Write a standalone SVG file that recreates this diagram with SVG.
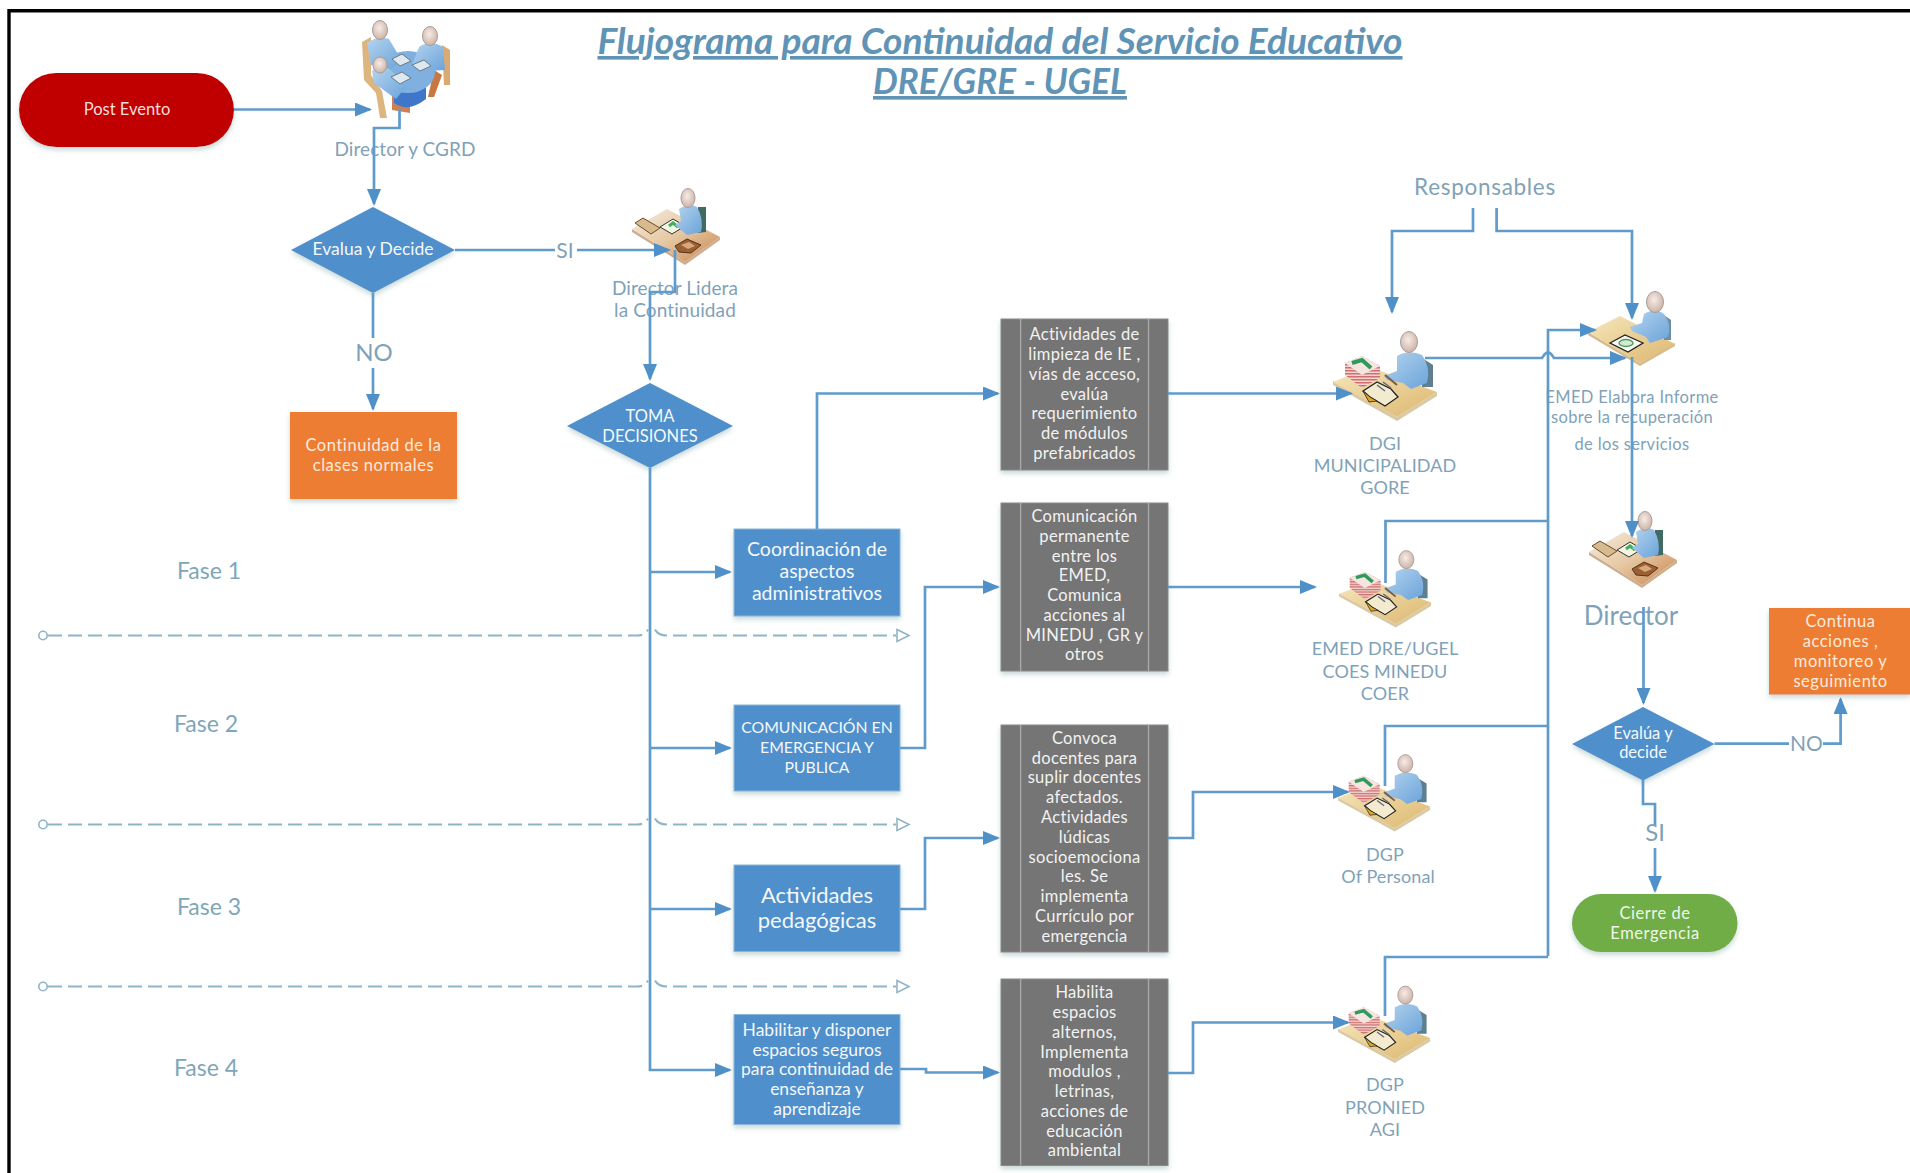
<svg xmlns="http://www.w3.org/2000/svg" width="1910" height="1173" viewBox="0 0 1910 1173">
<style>
text{font-family:Lato,"Liberation Sans",sans-serif;text-anchor:middle}
.w{fill:#f4f8fb;font-size:16.5px}
.o{fill:#fdeadd;font-size:16.5px;letter-spacing:.55px}
.l{fill:#7fa2b8;font-size:18px;letter-spacing:.1px}
.ls{font-size:16.5px;letter-spacing:.35px}
.f{fill:#7ea6b8;font-size:23px}
.big{fill:#7fa2b8;font-size:26px}
.g{fill:#f2f2f2;font-size:16.5px;letter-spacing:.3px}
.t{fill:#5f94b6;font-size:36px;font-weight:700;font-style:italic;text-decoration:underline}
.blue{fill:#4f8fcb;filter:url(#sh)}
.box{stroke:#8db6dc;stroke-width:1}
.gray{fill:#757575;stroke:#8a8a8a;stroke-width:1;filter:url(#sh)}
.in{stroke:#a8a8a8;stroke-width:1.4;fill:none}
.c{fill:none;stroke:#5f9bcb;stroke-width:2.7}
.a{marker-end:url(#arrow)}
.d{fill:none;stroke:#8fb4c6;stroke-width:2;stroke-dasharray:14 6}
.dm{fill:none;stroke:#8fb4c6;stroke-width:1.6}
.ic{filter:url(#soft)}
</style>
<defs>
<marker id="arrow" markerUnits="userSpaceOnUse" viewBox="0 0 17 14" markerWidth="17" markerHeight="14" refX="15" refY="7" orient="auto"><path d="M0 0L17 7L0 14Z" fill="#4f90c8"/></marker>
<filter id="sh" x="-10%" y="-10%" width="120%" height="125%"><feDropShadow dx="0" dy="3" stdDeviation="2.5" flood-color="#8aa" flood-opacity=".45"/></filter>
<filter id="soft" x="-5%" y="-5%" width="110%" height="110%"><feGaussianBlur stdDeviation=".55"/></filter>
<linearGradient id="desk" x1="0" y1="0" x2="1" y2="1"><stop offset="0" stop-color="#f6e6bb"/><stop offset="1" stop-color="#dcb76f"/></linearGradient>
<linearGradient id="desk2" x1="0" y1="0" x2="1" y2="1"><stop offset="0" stop-color="#f4ece2"/><stop offset=".5" stop-color="#e6c8a2"/><stop offset="1" stop-color="#c6834e"/></linearGradient>
<linearGradient id="body" x1="0" y1="0" x2="1" y2="1"><stop offset="0" stop-color="#b5d4ee"/><stop offset="1" stop-color="#6ba3da"/></linearGradient>
<radialGradient id="head" cx=".45" cy=".4" r=".6"><stop offset="0" stop-color="#f7ece6"/><stop offset="1" stop-color="#cdb3a8"/></radialGradient>
<pattern id="stripes" width="4" height="3" patternUnits="userSpaceOnUse"><rect width="4" height="3" fill="#f3d4d0"/><rect width="4" height="1.5" fill="#cf6f6f"/></pattern>
<g id="worker">
<path d="M8 60L72 96L112 71V67L72 92L8 56Z" fill="#c9b27e" opacity=".7"/>
<path d="M8 57L45 42L112 67L72 92Z" fill="url(#desk)"/>
<path d="M20 38L37 31L55 41V53L37 63L20 50Z" fill="url(#stripes)"/>
<path d="M20 38L37 31L55 41L37 50Z" fill="#f6e4e0"/>
<path d="M27 38L37 35L46 43" fill="none" stroke="#2f9a5c" stroke-width="4"/>
<path d="M97 33L108 40V62L97 62Z" fill="#5d7f90"/>
<path d="M72 31Q84 24 97 30Q106 42 102 58L86 64L78 58L62 55L59 51L72 46Z" fill="url(#body)"/>
<ellipse cx="84" cy="17" rx="8.5" ry="10.5" fill="url(#head)" stroke="#a79c98"/>
<path d="M38 66L52 57L66 64L73 72L60 81L45 72Z" fill="#f3ebd0" stroke="#222" stroke-width="1.3"/>
<path d="M38 66L45 72L52 76L44 77Z" fill="#e0a51f" stroke="#222" stroke-width=".8"/>
<path d="M52 60L60 66M58 57L66 63" stroke="#667" stroke-width="1.5"/>
<path d="M60 50L72 60" stroke="#7d5a3c" stroke-width="2"/>
</g>
<g id="boss">
<path d="M7 47L60 80L95 55V52L60 77L7 44Z" fill="#b98a5f" opacity=".7"/>
<path d="M7 44L42 24L95 52L60 77Z" fill="url(#desk2)"/>
<path d="M10 38L18 33L35 43L26 49Z" fill="#d7bb8c" stroke="#6b4b2c"/>
<path d="M35 42L48 34L60 41L47 49Z" fill="#f4f4e4" stroke="#333"/>
<path d="M44 41L48 38L53 42" fill="none" stroke="#3fae5f" stroke-width="3"/>
<path d="M50 61L62 54L76 60L66 68L54 67Z" fill="#9c5f33" stroke="#53341c"/>
<path d="M56 60L64 57L70 61L63 64Z" fill="#d8a77c"/>
<path d="M73 22L81 22V47L73 48Z" fill="#3f6b62"/>
<path d="M54 24Q64 17 72 22Q79 34 76 47L62 50L50 40L56 36Z" fill="url(#body)"/>
<ellipse cx="63" cy="13" rx="7" ry="9.5" fill="url(#head)" stroke="#a79c98"/>
</g>
<g id="writer">
<path d="M8 50L60 81L95 61V58L60 78L8 47Z" fill="#c49d5e" opacity=".7"/>
<path d="M8 47L40 31L95 59L60 78Z" fill="url(#desk)"/>
<path d="M30 58L45 50L63 58L48 67Z" fill="#fafaf0" stroke="#222" stroke-width="1.3"/>
<ellipse cx="46" cy="58" rx="7" ry="3.5" fill="#d6e8d0" stroke="#4b9d66" stroke-width="1.4"/>
<path d="M84 30L91 35V55L84 55Z" fill="#6d8fa3"/>
<path d="M64 29Q75 22 84 29Q92 40 88 52L70 58L66 52L52 46L50 42L62 38Z" fill="url(#body)"/>
<ellipse cx="75" cy="17" rx="8.5" ry="10.5" fill="url(#head)" stroke="#a79c98"/>
</g>
<g id="meeting">
<path d="M12 27L21 22V60L32 76L37 103H30L26 78L14 65Z" fill="#dcb57f"/>
<path d="M92 30L100 35V70H94Z" fill="#d9ab72"/>
<path d="M60 98V73H42V95Z" fill="#c46a36" opacity=".85"/>
<path d="M84 55L78 82H84L92 60Z" fill="#c9763f"/>
<path d="M44 70V88Q58 98 76 84V70Z" fill="#3f76c9"/>
<ellipse cx="58" cy="57" rx="27" ry="21" fill="#7fb0e0"/>
<path d="M17 28Q28 20 39 24L52 46L40 54L21 50Z" fill="url(#body)"/>
<path d="M69 32Q80 24 93 32L95 55L78 56L62 50Z" fill="url(#body)"/>
<path d="M22 56Q32 48 42 56L56 72L46 84L24 68Z" fill="url(#body)"/>
<path d="M42 44L52 39L61 46L50 51ZM62 50L74 45L81 51L70 56ZM41 62L52 57L61 63L50 69Z" fill="#dfe8ee" stroke="#6a7a85"/>
<ellipse cx="30" cy="15" rx="7.5" ry="9.5" fill="url(#head)" stroke="#a79c98"/>
<ellipse cx="80" cy="21" rx="7.5" ry="9.5" fill="url(#head)" stroke="#a79c98"/>
<ellipse cx="30" cy="50" rx="7" ry="8" fill="url(#head)" stroke="#a79c98"/>
</g>
<g id="dash">
<path class="d" d="M48 0H637Q645 0 648 -6M655 -6Q658 0 667 0H896"/>
<circle class="dm" cx="43" cy="0" r="4.2"/>
<path class="dm" d="M897 -6L909 0L897 6Z"/>
</g>
</defs>
<rect width="1910" height="1173" fill="#fff"/>
<path id="frame" d="M1910 10.7H9V1173" fill="none" stroke="#000" stroke-width="3.4"/>
<g id="title">
<text class="t" x="1000" y="54" textLength="805" lengthAdjust="spacingAndGlyphs">Flujograma para Continuidad del Servicio Educativo</text>
<text class="t" x="1000" y="94" textLength="254" lengthAdjust="spacingAndGlyphs">DRE/GRE - UGEL</text>
</g>
<g id="post-evento"><rect x="19" y="73" width="215" height="74" rx="37" fill="#c00000" filter="url(#sh)"/><text x="127" y="115" fill="#f6dede" font-size="16.5">Post Evento</text></g>
<g id="director-cgrd"><use class="ic" href="#meeting" x="350" y="15"/><text class="l" x="405" y="156" style="font-size:19px">Director y CGRD</text></g>
<g id="evalua-decide"><path class="blue" d="M373 207L455 250L373 293L291 250Z"/><text class="w" x="373" y="255" style="font-size:17.5px">Evalua y Decide</text></g>
<g id="continuidad"><rect x="290" y="412" width="167" height="87" fill="#ed7d31" filter="url(#sh)"/><text class="o" x="373.5"><tspan x="373.5" y="451">Continuidad de la</tspan><tspan x="373.5" y="471">clases normales</tspan></text></g>
<g id="director-lidera"><use class="ic" href="#boss" x="625" y="185"/><text class="l" x="675" style="font-size:19px"><tspan x="675" y="295">Director Lidera</tspan><tspan x="675" y="317">la Continuidad</tspan></text></g>
<g id="toma-decisiones"><path class="blue" d="M650 383L733 426L650 468L567 426Z"/><text class="w" x="650"><tspan x="650" y="422">TOMA</tspan><tspan x="650" y="442">DECISIONES</tspan></text></g>
<g id="fases"><text class="f" x="209" y="579">Fase 1</text><text class="f" x="206" y="732">Fase 2</text><text class="f" x="209" y="915">Fase 3</text><text class="f" x="206" y="1076">Fase 4</text></g>
<g id="coordinacion"><rect class="blue box" x="734" y="529" width="166" height="87"/><text class="w" style="font-size:19.5px" x="817"><tspan x="817" y="556">Coordinación de</tspan><tspan x="817" y="578">aspectos</tspan><tspan x="817" y="600">administrativos</tspan></text></g>
<g id="comunicacion"><rect class="blue box" x="734" y="705" width="166" height="86"/><text class="w" style="font-size:15.8px" x="817"><tspan x="817" y="733">COMUNICACIÓN EN</tspan><tspan x="817" y="753">EMERGENCIA Y</tspan><tspan x="817" y="773">PUBLICA</tspan></text></g>
<g id="pedagogicas"><rect class="blue box" x="734" y="865" width="166" height="86.5"/><text class="w" style="font-size:22px" x="817"><tspan x="817" y="902.5">Actividades</tspan><tspan x="817" y="927.5">pedagógicas</tspan></text></g>
<g id="habilitar"><rect class="blue box" x="734" y="1014.5" width="166" height="110"/><text class="w" x="817" style="font-size:17.5px"><tspan x="817" y="1035.5">Habilitar y disponer</tspan><tspan x="817" y="1055.5">espacios seguros</tspan><tspan x="817" y="1075">para continuidad de</tspan><tspan x="817" y="1095">enseñanza y</tspan><tspan x="817" y="1115">aprendizaje</tspan></text></g>
<g id="gris-1"><rect class="gray" x="1001" y="319" width="167" height="151"/><path class="in" d="M1020.6 319V470M1148.5 319V470"/><text class="g" x="1084.5"><tspan x="1084.5" y="340">Actividades de</tspan><tspan x="1084.5" y="360">limpieza de IE ,</tspan><tspan x="1084.5" y="379.5">vías de acceso,</tspan><tspan x="1084.5" y="399.5">evalúa</tspan><tspan x="1084.5" y="419">requerimiento</tspan><tspan x="1084.5" y="439">de módulos</tspan><tspan x="1084.5" y="459">prefabricados</tspan></text></g>
<g id="gris-2"><rect class="gray" x="1001" y="503" width="167" height="168"/><path class="in" d="M1020.6 503V671M1148.5 503V671"/><text class="g" x="1084.5"><tspan x="1084.5" y="522">Comunicación</tspan><tspan x="1084.5" y="542">permanente</tspan><tspan x="1084.5" y="561.5">entre los</tspan><tspan x="1084.5" y="581">EMED,</tspan><tspan x="1084.5" y="601">Comunica</tspan><tspan x="1084.5" y="621">acciones al</tspan><tspan x="1084.5" y="640.5">MINEDU , GR y</tspan><tspan x="1084.5" y="660">otros</tspan></text></g>
<g id="gris-3"><rect class="gray" x="1001" y="725" width="167" height="227"/><path class="in" d="M1020.6 725V952M1148.5 725V952"/><text class="g" x="1084.5"><tspan x="1084.5" y="743.5">Convoca</tspan><tspan x="1084.5" y="763.5">docentes para</tspan><tspan x="1084.5" y="783">suplir docentes</tspan><tspan x="1084.5" y="803">afectados.</tspan><tspan x="1084.5" y="823">Actividades</tspan><tspan x="1084.5" y="843">lúdicas</tspan><tspan x="1084.5" y="862.5">socioemociona</tspan><tspan x="1084.5" y="882">les. Se</tspan><tspan x="1084.5" y="902">implementa</tspan><tspan x="1084.5" y="922">Currículo por</tspan><tspan x="1084.5" y="941.5">emergencia</tspan></text></g>
<g id="gris-4"><rect class="gray" x="1001" y="979" width="167" height="186.5"/><path class="in" d="M1020.6 979V1165.5M1148.5 979V1165.5"/><text class="g" x="1084.5"><tspan x="1084.5" y="998">Habilita</tspan><tspan x="1084.5" y="1018">espacios</tspan><tspan x="1084.5" y="1037.5">alternos,</tspan><tspan x="1084.5" y="1057.5">Implementa</tspan><tspan x="1084.5" y="1077">modulos ,</tspan><tspan x="1084.5" y="1097">letrinas,</tspan><tspan x="1084.5" y="1116.5">acciones de</tspan><tspan x="1084.5" y="1136.5">educación</tspan><tspan x="1084.5" y="1156">ambiental</tspan></text></g>
<g id="responsables"><text x="1485" y="195" fill="#7fa2b8" font-size="22.5" letter-spacing=".7">Responsables</text></g>
<g id="dgi"><use class="ic" href="#worker" x="1325" y="325"/><text class="l" x="1385"><tspan x="1385" y="450">DGI</tspan><tspan x="1385" y="472">MUNICIPALIDAD</tspan><tspan x="1385" y="494">GORE</tspan></text></g>
<g id="emed-dre"><use class="ic" href="#worker" transform="translate(1332 545) scale(.885 .86)"/><text class="l" x="1385"><tspan x="1385" y="655">EMED DRE/UGEL</tspan><tspan x="1385" y="677.5">COES MINEDU</tspan><tspan x="1385" y="700">COER</tspan></text></g>
<g id="dgp-personal"><use class="ic" href="#worker" transform="translate(1331 749) scale(.885 .86)"/><text class="l" x="1385"><tspan x="1385" y="860.5">DGP</tspan><tspan x="1388" y="882.5">Of Personal</tspan></text></g>
<g id="dgp-pronied"><use class="ic" href="#worker" transform="translate(1331 980.5) scale(.885 .86)"/><text class="l" x="1385"><tspan x="1385" y="1090.5">DGP</tspan><tspan x="1385" y="1113.5">PRONIED</tspan><tspan x="1385" y="1136">AGI</tspan></text></g>
<g id="emed-informe"><use class="ic" href="#writer" x="1580" y="285"/><text class="l ls" x="1632"><tspan x="1632" y="403">EMED Elabora Informe</tspan><tspan x="1632" y="423">sobre la recuperación</tspan><tspan x="1632" y="450">de los servicios</tspan></text></g>
<g id="director"><use class="ic" href="#boss" x="1582" y="508"/><text class="big" x="1631" y="625">Director</text></g>
<g id="evalua-decide-2"><path class="blue" d="M1643 707L1714.5 744L1643 780.5L1572 744Z"/><text class="w" x="1643"><tspan x="1643" y="738.5">Evalúa y</tspan><tspan x="1643" y="758">decide</tspan></text></g>
<g id="continua"><rect x="1769" y="608" width="141" height="86.5" fill="#ed7d31" filter="url(#sh)"/><text class="o" x="1840.5"><tspan x="1840.5" y="627">Continua</tspan><tspan x="1840.5" y="647">acciones ,</tspan><tspan x="1840.5" y="667">monitoreo y</tspan><tspan x="1840.5" y="687">seguimiento</tspan></text></g>
<g id="cierre"><rect x="1572" y="894" width="165.5" height="58" rx="29" fill="#70ad47" filter="url(#sh)"/><text class="o" x="1655" style="fill:#eef6e8"><tspan x="1655" y="919">Cierre de</tspan><tspan x="1655" y="938.5">Emergencia</tspan></text></g>
<g id="connectors">
<path class="c a" d="M234 109.5H370"/>
<path class="c a" d="M399.5 110V128H374V204"/>
<path class="c" d="M373 293V338"/><path class="c a" d="M373 368V409"/>
<path class="c" d="M455 250H555"/><path class="c a" d="M577 250H669"/>
<path class="c a" d="M675 250V292H650V379"/>
<path class="c a" d="M650 468V1070H730"/>
<path class="c a" d="M650 572H730"/><path class="c a" d="M650 748H730"/><path class="c a" d="M650 909H730"/>
<path class="c a" d="M817 529V393.5H998"/>
<path class="c a" d="M900 748H925V587H998"/>
<path class="c a" d="M900 909H925V838H998"/>
<path class="c a" d="M900 1069H926V1072.5H998"/>
<path class="c a" d="M1168 393.5H1351"/>
<path class="c a" d="M1168 587H1315"/>
<path class="c a" d="M1168 838H1193V792H1348"/>
<path class="c a" d="M1168 1073H1193V1022.5H1348"/>
<path class="c a" d="M1473 208V231H1392V312"/>
<path class="c a" d="M1496.6 208V231H1632V318"/>
<path class="c a" d="M1425 358H1542L1545 354Q1548 351 1551 354L1554 358H1625"/>
<path class="c a" d="M1548 956V330H1595"/>
<path class="c" d="M1548 521H1385.5V583"/>
<path class="c" d="M1548 726H1385V786"/>
<path class="c" d="M1548 957H1385V1016"/>
<path class="c a" d="M1632 357V536"/>
<path class="c a" d="M1643.5 607V703"/>
<path class="c" d="M1714.5 743.7H1789"/><path class="c a" d="M1823 743.7H1840.6V699"/>
<path class="c" d="M1643 780V804H1655V825"/><path class="c a" d="M1655 848V891"/>
<use href="#dash" x="0" y="635.5"/>
<use href="#dash" x="0" y="824.5"/>
<use href="#dash" x="0" y="986.5"/>
</g>
<g id="connector-labels">
<text class="big" x="565" y="258" style="font-size:21px">SI</text>
<text class="big" x="374" y="361" style="font-size:24px">NO</text>
<text class="big" x="1806.5" y="751" style="font-size:21px">NO</text>
<text class="big" x="1655" y="841" style="font-size:24px">SI</text>
</g>
</svg>
